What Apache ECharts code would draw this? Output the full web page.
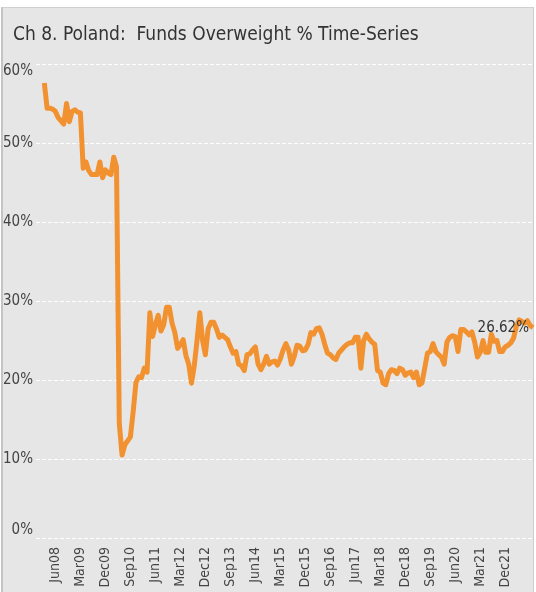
<!DOCTYPE html>
<html>
<head>
<meta charset="utf-8">
<script src="https://cdn.jsdelivr.net/npm/echarts@6/dist/echarts.min.js"></script>
<style>
  html, body { margin: 0; padding: 0; background: #fff; }
  #frame {
    position: absolute; left: 1px; top: 7px; width: 530px; height: 590px;
    background: #e6e6e6; border-top: 1px solid #cfcfcf; border-left: 2px solid #c4c4c4;
    border-right: 1px solid #cfcfcf;
  }
  #chart { position: absolute; left: 0; top: 0; width: 536px; height: 592px; }
</style>
</head>
<body>
<div id="frame"></div>
<div id="chart"></div>
<script>
const FONT = "'Liberation Sans Narrow', 'DejaVu Sans Condensed', Roboto, sans-serif";

const titleText = 'Ch 8. Poland:  Funds Overweight % Time-Series';
const monthNames = ['Jan', 'Feb', 'Mar', 'Apr', 'May', 'Jun', 'Jul', 'Aug', 'Sep', 'Oct', 'Nov', 'Dec'];

// axis runs Nov 2007 .. Oct 2022, data starts Feb 2008
const startYear = 2007, startMonth = 10;
const monthCount = 180;
const months = [];
for (let i = 0; i < monthCount; i++) {
  const m = (startMonth + i) % 12;
  const y = startYear + Math.floor((startMonth + i) / 12);
  months.push(monthNames[m] + String(y).slice(2));
}

const overweight = [
  null, null, null,
  57.6, 54.4, 54.4, 54.3, 54.0, 53.2, 52.8, 52.4, 55.0, 52.7,
  54.0, 54.2, 53.9, 53.8, 46.8, 47.6, 46.5, 46.0, 46.0, 46.0,
  47.6, 45.6, 46.6, 46.2, 46.0, 48.2, 47.0, 14.5, 10.5, 11.8,
  12.3, 12.8, 16.0, 19.7, 20.4, 20.3, 21.5, 21.0, 28.5, 25.5,
  27.0, 28.2, 26.2, 27.0, 29.2, 29.2, 27.2, 26.0, 24.0, 24.5,
  25.1, 23.1, 22.0, 19.6, 21.8, 25.0, 28.5, 25.0, 23.2, 26.5,
  27.3, 27.3, 26.5, 25.4, 25.7, 25.4, 25.1, 24.2, 23.4, 23.6,
  22.0, 21.8, 21.2, 23.2, 23.3, 23.8, 24.2, 22.0, 21.3, 22.0,
  23.0, 22.0, 22.3, 22.4, 21.9, 22.7, 23.8, 24.6, 23.8, 22.0,
  23.0, 24.4, 24.3, 23.7, 23.8, 24.5, 26.0, 25.8, 26.5, 26.6,
  25.8, 24.5, 23.4, 23.2, 22.8, 22.6, 23.4, 23.8, 24.2, 24.5,
  24.7, 24.7, 25.4, 25.4, 21.5, 25.0, 25.8, 25.2, 24.8, 24.5,
  21.2, 21.0, 19.6, 19.4, 20.8, 21.3, 21.2, 20.8, 21.5, 21.3,
  20.6, 20.9, 21.0, 20.3, 21.0, 19.4, 19.6, 21.5, 23.4, 23.6,
  24.6, 23.6, 23.2, 22.9, 22.0, 24.8, 25.4, 25.6, 25.5, 23.6,
  26.4, 26.4, 26.1, 25.7, 26.1, 24.8, 22.9, 23.5, 25.0, 23.5,
  23.5, 25.8, 24.9, 25.0, 23.6, 23.6, 24.2, 24.4, 24.7, 25.3,
  26.8, 27.6, 27.4, 27.2, 27.5, 26.9, 26.62
];

const yTicks = [0, 10, 20, 30, 40, 50, 60];
const firstLabelIndex = 7;   // Jun08
const lastLabelIndex = 169;  // Dec21
const labelStep = 9;

const lastIndex = overweight.length - 1;
const seriesData = overweight.map((v, i) => i === lastIndex ? {
  value: v,
  label: { show: true, position: 'left', distance: 4, formatter: '{c}%', color: '#333', fontSize: 15, fontFamily: FONT }
} : v);

const chart = echarts.init(document.getElementById('chart'), null, { renderer: 'canvas' });
chart.setOption({
  animation: false,
  backgroundColor: 'transparent',
  title: {
    text: titleText,
    left: 8, top: 21,
    textStyle: { fontFamily: FONT, fontSize: 19, fontWeight: 'normal', color: '#333' }
  },
  grid: { left: 36, right: 3, top: 64, bottom: 54, containLabel: false },
  xAxis: {
    type: 'category',
    data: months,
    boundaryGap: false,
    axisLine: { show: false },
    axisTick: { show: false },
    axisLabel: {
      rotate: 90,
      margin: 9,
      fontFamily: FONT,
      fontSize: 14,
      color: '#444',
      interval: (i) => i >= firstLabelIndex && i <= lastLabelIndex && (i - firstLabelIndex) % labelStep === 0
    },
    splitLine: { show: false }
  },
  yAxis: {
    type: 'value',
    min: yTicks[0],
    max: yTicks[yTicks.length - 1],
    interval: 10,
    axisLine: { show: false },
    axisTick: { show: false },
    axisLabel: {
      formatter: '{value}%',
      margin: 3,
      fontFamily: FONT,
      fontSize: 15,
      color: '#444',
      verticalAlignMinLabel: 'bottom',
      verticalAlignMaxLabel: 'top'
    },
    splitLine: { lineStyle: { color: '#ffffff', width: 1, type: [4, 2] } }
  },
  series: [{
    type: 'line',
    data: seriesData,
    showSymbol: true,
    symbol: 'circle',
    symbolSize: 0,
    connectNulls: false,
    lineStyle: { color: '#f2912f', width: 5, join: 'round' },
    itemStyle: { color: '#f2912f' },
    labelLayout: { hideOverlap: false }
  }]
});
</script>
</body>
</html>
